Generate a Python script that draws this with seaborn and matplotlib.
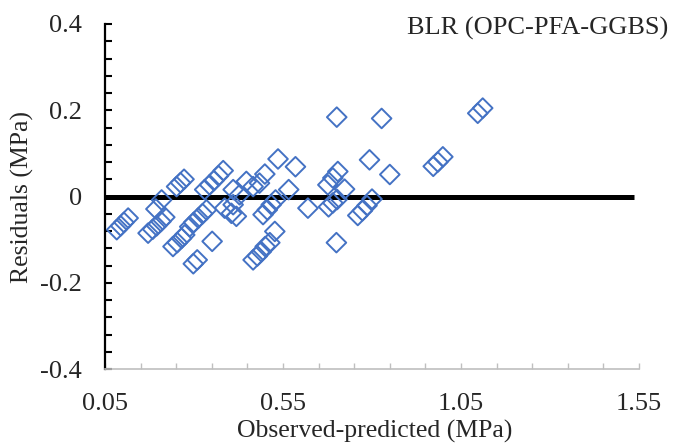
import numpy as np
import pandas as pd
import matplotlib
matplotlib.use("Agg")
import matplotlib.pyplot as plt
import seaborn as sns
from matplotlib.ticker import MultipleLocator, FixedLocator

# ---- data ----
obs_pred = [
    0.083, 0.094, 0.103, 0.115,
    0.171, 0.184, 0.195, 0.207, 0.218,
    0.193, 0.209,
    0.251, 0.262, 0.272,
    0.241, 0.253, 0.265, 0.274,
    0.298, 0.309,
    0.351,
    0.288, 0.299, 0.312, 0.324, 0.335,
    0.330, 0.344, 0.356, 0.369, 0.382,
    0.386, 0.405, 0.419, 0.410, 0.410, 0.428, 0.447, 0.466, 0.484,
    0.494, 0.506, 0.517, 0.529,
    0.466, 0.478, 0.489, 0.500, 0.513,
    0.527, 0.499, 0.536, 0.585, 0.566, 0.620,
    0.676, 0.690, 0.704,
    0.723,
    0.678, 0.690, 0.702,
    0.700, 0.701,
    0.760, 0.773, 0.786, 0.800,
    0.793, 0.827, 0.850,
    0.972, 0.985, 0.999,
    1.097, 1.111,
]
residuals = [
    -0.077, -0.068, -0.060, -0.050,
    -0.085, -0.076, -0.068, -0.058, -0.048,
    -0.029, -0.008,
    0.023, 0.032, 0.040,
    -0.116, -0.107, -0.097, -0.089,
    -0.156, -0.147,
    -0.104,
    -0.070, -0.060, -0.050, -0.040, -0.031,
    0.016, 0.027, 0.037, 0.048, 0.060,
    -0.027, -0.039, -0.046, -0.019, 0.016, 0.004, 0.035, 0.023, 0.031,
    -0.042, -0.031, -0.019, -0.008,
    -0.147, -0.138, -0.128, -0.116, -0.107,
    -0.081, 0.052, 0.087, 0.069, 0.016, -0.027,
    0.027, 0.043, 0.058,
    0.017,
    -0.024, -0.015, -0.007,
    -0.107, 0.184,
    -0.044, -0.033, -0.021, -0.006,
    0.085, 0.181, 0.051,
    0.070, 0.080, 0.092,
    0.193, 0.205,
]
zero_x = [0.05, 1.535]
zero_y = [0.0, 0.0]
x_ticklabels = ["0.05", "0.55", "1.05", "1.55"]
y_ticklabels = ["-0.4", "-0.2", "0", "0.2", "0.4"]
title_text = "BLR (OPC-PFA-GGBS)"

df = pd.DataFrame({"x": obs_pred, "y": residuals})
zero_df = pd.DataFrame({"x": zero_x, "y": zero_y})

sns.set_theme(style="white")
plt.rcParams["font.family"] = ["Liberation Serif", "DejaVu Serif"]

W, H = 674, 445
fig = plt.figure(figsize=(6.74, 4.45), dpi=100)
ax = fig.add_axes([105 / W, 1 - 369 / H, (639 - 105) / W, (369 - 24) / H])

sns.lineplot(data=zero_df, x="x", y="y", ax=ax, color="black", linewidth=3.6,
             solid_capstyle="butt", zorder=1)
sns.scatterplot(data=df, x="x", y="y", ax=ax, marker="D", s=100,
                facecolor="none", edgecolor="#4472C4", linewidth=1.4, zorder=3)

ax.set_xlim(0.05, 1.55)
ax.set_ylim(-0.4, 0.4)

ax.xaxis.set_major_locator(FixedLocator([0.05, 0.55, 1.05, 1.55]))
ax.set_xticklabels(x_ticklabels)
ax.xaxis.set_minor_locator(FixedLocator([0.05 + 0.1 * i for i in range(16)]))
ax.yaxis.set_major_locator(FixedLocator([-0.4, -0.2, 0.0, 0.2, 0.4]))
ax.set_yticklabels(y_ticklabels)
ax.yaxis.set_minor_locator(MultipleLocator(0.04))

ax.tick_params(axis="y", which="both", direction="in", length=5, width=1.5,
               color="black", left=True, labelsize=19, pad=16.5)
ax.tick_params(axis="x", which="both", direction="in", length=4, width=1.0,
               color="#BFBFBF", bottom=True, labelsize=19, pad=17)

for side in ["top", "right"]:
    ax.spines[side].set_visible(False)
ax.spines["left"].set_color("black")
ax.spines["left"].set_linewidth(1.6)
ax.spines["bottom"].set_color("#BFBFBF")
ax.spines["bottom"].set_linewidth(1.2)

ax.set_xlabel("Observed-predicted (MPa)", fontsize=18.5, va="center")
ax.xaxis.set_label_coords(375 / W, 1 - 431 / H, transform=fig.transFigure)
ax.set_ylabel("Residuals (MPa)", fontsize=18.5, va="center")
ax.yaxis.set_label_coords(22 / W, 1 - 197 / H, transform=fig.transFigure)

fig.text(668 / W, 1 - 28 / H, title_text, ha="right", va="center", fontsize=19)

fig.savefig("out.png", dpi=100)
